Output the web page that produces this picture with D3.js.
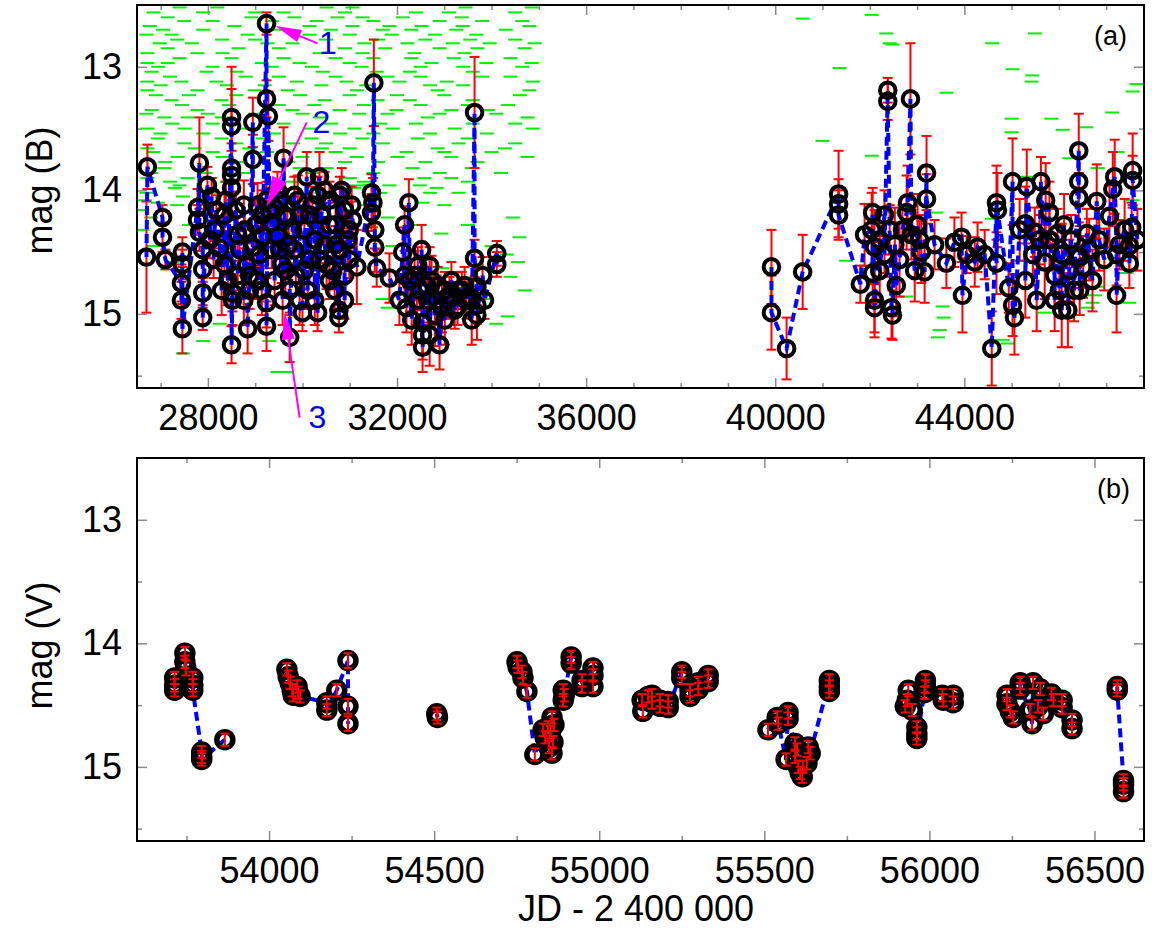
<!DOCTYPE html>
<html>
<head>
<meta charset="utf-8">
<script src="https://cdn.jsdelivr.net/npm/d3@7"></script>
<style>
  body { margin: 0; background: #fff; }
  svg { display: block; }
</style>
</head>
<body>
<div id="chart"></div>
<script>
'use strict';

// (a) photographic B magnitudes: [JD - 2400000, mag, error]
const bandB = [
  [26700, 14.54, 0.45], [26720, 13.81, 0.18], [27040, 14.22, 0.10], [27040, 14.38, 0.12],
  [27100, 14.56, 0.08], [27440, 14.75, 0.15], [27440, 14.89, 0.15], [27460, 14.50, 0.12],
  [27460, 14.60, 0.12], [27460, 15.12, 0.20], [27780, 14.14, 0.15], [27780, 14.24, 0.12],
  [27820, 13.78, 0.37], [27820, 14.34, 0.15], [27890, 14.48, 0.12], [27890, 14.64, 0.10],
  [27890, 14.83, 0.12], [27890, 15.03, 0.10], [27990, 13.96, 0.15], [28040, 14.40, 0.15],
  [28080, 14.05, 0.15], [28120, 14.56, 0.15], [28140, 14.32, 0.15], [28180, 14.16, 0.12],
  [28250, 14.47, 0.10], [28290, 14.81, 0.20], [28350, 14.20, 0.18], [28350, 14.60, 0.10],
  [28380, 14.08, 0.15], [28420, 14.73, 0.20], [28500, 13.41, 0.41], [28500, 13.48, 0.30],
  [28500, 13.82, 0.20], [28500, 13.88, 0.20], [28500, 13.98, 0.20], [28500, 15.25, 0.15],
  [28520, 14.83, 0.15], [28520, 14.89, 0.20], [28590, 14.16, 0.15], [28630, 14.36, 0.15],
  [28630, 14.69, 0.12], [28670, 14.48, 0.15], [28760, 14.12, 0.20], [28760, 14.89, 0.20],
  [28780, 14.32, 0.15], [28820, 14.61, 0.18], [28840, 15.12, 0.20], [28880, 14.69, 0.15],
  [28880, 14.81, 0.15], [28950, 13.45, 0.20], [28950, 13.75, 0.20], [28950, 14.46, 0.15],
  [29010, 14.28, 0.20], [29050, 14.12, 0.18], [29050, 14.73, 0.15], [29090, 14.52, 0.20],
  [29140, 14.20, 0.20], [29140, 14.81, 0.20], [29160, 14.37, 0.15], [29240, 12.65, 0.09],
  [29240, 13.26, 0.15], [29240, 14.08, 0.15], [29240, 14.91, 0.20], [29240, 15.10, 0.20],
  [29280, 13.40, 0.20], [29300, 14.16, 0.15], [29350, 14.26, 0.20], [29350, 14.48, 0.15],
  [29410, 14.14, 0.15], [29410, 14.73, 0.20], [29470, 14.00, 0.15], [29470, 14.37, 0.18],
  [29520, 14.08, 0.15], [29520, 14.48, 0.20], [29560, 14.60, 0.15], [29580, 14.89, 0.20],
  [29600, 13.74, 0.25], [29620, 14.20, 0.15], [29640, 14.65, 0.20], [29680, 14.22, 0.15],
  [29710, 14.44, 0.15], [29730, 14.81, 0.20], [29730, 15.19, 0.20], [29790, 14.32, 0.15],
  [29830, 14.04, 0.15], [29830, 14.48, 0.20], [29860, 14.69, 0.15], [29900, 14.08, 0.20],
  [29940, 14.20, 0.15], [29940, 14.89, 0.20], [30000, 14.99, 0.15], [30040, 14.32, 0.18],
  [30040, 14.65, 0.15], [30090, 13.89, 0.20], [30110, 14.81, 0.15], [30150, 14.20, 0.15],
  [30150, 14.56, 0.20], [30210, 14.12, 0.15], [30260, 14.40, 0.18], [30260, 14.89, 0.20],
  [30320, 14.04, 0.15], [30320, 14.99, 0.15], [30360, 13.89, 0.20], [30360, 14.56, 0.15],
  [30400, 14.20, 0.15], [30470, 14.00, 0.15], [30470, 14.44, 0.15], [30510, 14.60, 0.20],
  [30570, 14.08, 0.15], [30570, 14.28, 0.18], [30570, 14.73, 0.15], [30640, 14.65, 0.15],
  [30680, 14.81, 0.15], [30700, 14.28, 0.20], [30700, 14.44, 0.15], [30770, 14.97, 0.12],
  [30770, 15.03, 0.12], [30790, 14.04, 0.15], [30790, 14.48, 0.15], [30830, 14.00, 0.18],
  [30890, 14.16, 0.15], [30890, 14.69, 0.15], [30890, 14.89, 0.15], [30960, 14.40, 0.20],
  [30990, 14.32, 0.15], [30990, 14.56, 0.15], [31040, 14.12, 0.15], [31060, 14.24, 0.15],
  [31150, 14.62, 0.30], [31460, 14.02, 0.15], [31460, 14.18, 0.15],
  [31490, 14.10, 0.20], [31510, 13.13, 0.35], [31530, 14.32, 0.15], [31530, 14.46, 0.20],
  [31570, 14.63, 0.15], [31840, 14.71, 0.20], [32050, 14.89, 0.20],
  [32120, 14.50, 0.20], [32160, 14.28, 0.15], [32160, 14.69, 0.20], [32200, 14.95, 0.20],
  [32250, 14.10, 0.19], [32270, 14.73, 0.25], [32310, 15.05, 0.20], [32370, 14.69, 0.20],
  [32420, 14.89, 0.20], [32440, 14.61, 0.15], [32480, 14.81, 0.15], [32520, 14.48, 0.20],
  [32540, 15.07, 0.25], [32540, 15.17, 0.20], [32540, 15.27, 0.20], [32630, 14.77, 0.15],
  [32650, 14.89, 0.20], [32690, 14.61, 0.15], [32690, 15.17, 0.25], [32730, 14.73, 0.20],
  [32800, 15.01, 0.25], [32840, 14.89, 0.20], [32860, 14.77, 0.15], [32900, 15.25, 0.20],
  [32950, 14.95, 0.20], [33010, 14.81, 0.15], [33010, 15.05, 0.20], [33070, 14.89, 0.15],
  [33110, 14.85, 0.15], [33150, 14.73, 0.15], [33220, 14.97, 0.15], [33280, 14.81, 0.15],
  [33280, 14.94, 0.15], [33370, 14.81, 0.15], [33430, 14.77, 0.15], [33470, 14.89, 0.15],
  [33540, 14.86, 0.15], [33580, 15.05, 0.20], [33640, 13.37, 0.45], [33640, 14.55, 0.15],
  [33690, 14.78, 0.15], [33690, 14.93, 0.15], [33690, 15.01, 0.20], [33810, 14.69, 0.15],
  [33850, 14.89, 0.15], [34110, 14.51, 0.10], [34110, 14.60, 0.10],
  [39920, 14.62, 0.30], [39920, 14.99, 0.30], [40240, 15.28, 0.25], [40580, 14.66, 0.30],
  [41340, 14.03, 0.35], [41340, 14.11, 0.20], [41340, 14.20, 0.20], [41800, 14.76, 0.15],
  [41890, 14.36, 0.25], [42040, 14.32, 0.30], [42060, 14.18, 0.20], [42060, 14.67, 0.25],
  [42100, 14.46, 0.30], [42100, 14.89, 0.30], [42100, 14.95, 0.20], [42210, 14.40, 0.20],
  [42210, 14.65, 0.25], [42310, 14.20, 0.20], [42310, 14.52, 0.15], [42380, 13.19, 0.10],
  [42380, 13.28, 0.15], [42420, 14.32, 0.20], [42460, 14.95, 0.25], [42480, 15.01, 0.20],
  [42530, 14.44, 0.30], [42560, 14.77, 0.25], [42630, 14.56, 0.30], [42690, 14.32, 0.20],
  [42780, 14.18, 0.30], [42800, 14.10, 0.30], [42860, 13.26, 0.45], [42880, 14.36, 0.20],
  [42950, 14.65, 0.25], [43010, 14.28, 0.25], [43050, 14.40, 0.20], [43090, 14.50, 0.25],
  [43160, 14.66, 0.25], [43200, 13.86, 0.30], [43200, 14.07, 0.20],
  [43370, 14.44, 0.20], [43620, 14.59, 0.20],
  [43790, 14.42, 0.20], [43940, 14.38, 0.20], [43960, 14.85, 0.30],
  [44050, 14.52, 0.15], [44220, 14.58, 0.20], [44280, 14.46, 0.20],
  [44430, 14.52, 0.20], [44580, 15.28, 0.30], [44680, 14.10, 0.30], [44680, 14.59, 0.25],
  [44700, 14.16, 0.30], [44940, 14.79, 0.20], [45020, 13.93, 0.35],
  [45020, 14.93, 0.25], [45060, 15.03, 0.30], [45170, 14.32, 0.25], [45290, 14.27, 0.30],
  [45290, 14.73, 0.30], [45320, 13.97, 0.30], [45450, 14.52, 0.25], [45490, 14.34, 0.20],
  [45530, 14.89, 0.25], [45590, 14.40, 0.20], [45620, 13.93, 0.20], [45700, 14.58, 0.30],
  [45720, 14.08, 0.30], [45800, 14.18, 0.25], [45800, 14.40, 0.25], [45910, 14.69, 0.25],
  [45910, 14.89, 0.25], [45970, 14.35, 0.20], [46010, 14.81, 0.20], [46060, 14.52, 0.25],
  [46060, 14.97, 0.30], [46110, 14.28, 0.25], [46190, 14.97, 0.30], [46220, 14.65, 0.25],
  [46260, 14.40, 0.20], [46320, 14.81, 0.25], [46420, 13.68, 0.30], [46420, 13.93, 0.20],
  [46420, 14.06, 0.20], [46440, 14.54, 0.25], [46440, 14.81, 0.20], [46510, 14.62, 0.25],
  [46590, 14.35, 0.20], [46640, 14.48, 0.25], [46710, 14.73, 0.25], [46800, 14.09, 0.30],
  [46850, 14.40, 0.25], [46960, 14.56, 0.25], [47070, 14.21, 0.25], [47140, 13.99, 0.30],
  [47180, 13.89, 0.30], [47220, 14.52, 0.25], [47220, 14.85, 0.30], [47280, 14.44, 0.20],
  [47390, 14.32, 0.25], [47490, 14.45, 0.20], [47490, 14.59, 0.20], [47540, 14.30, 0.20],
  [47560, 13.84, 0.30], [47560, 13.92, 0.20], [47660, 14.40, 0.25]
];

// plate limits, early plates: [mag, [JD - 2400000 ...]]
const earlyLimitRows = [
  [12.52, [27400, 28200, 30510, 31060, 33450, 34850]],
  [12.56, [26850, 27900, 29000, 29600, 30900, 32400, 33100, 34500]],
  [12.60, [27150, 28920, 29830, 30740, 31270, 32120, 33370]],
  [12.63, [27500, 28100, 29350, 30300, 31500, 32900, 33800, 34650]],
  [12.67, [26770, 28560, 30150, 31060, 31840, 32520, 33390, 34800]],
  [12.70, [27050, 27900, 29500, 30600, 31700, 32300, 33250, 34300]],
  [12.74, [26700, 27230, 28840, 30150, 31000, 31890, 32800, 33680]],
  [12.78, [27350, 28300, 29000, 30500, 31600, 32600, 33550, 34500]],
  [12.81, [26980, 27660, 29260, 29790, 31310, 32220, 33180, 33960, 34910]],
  [12.85, [27150, 28650, 29500, 30900, 31750, 32900, 33700, 34700]],
  [12.89, [26720, 27780, 28310, 30360, 31270, 32370, 33430]],
  [12.93, [27400, 28500, 29600, 30700, 31500, 32300, 33200, 34400]],
  [12.97, [26720, 27150, 29140, 29940, 31000, 32730, 33890, 34850]],
  [13.00, [26950, 28100, 29350, 30200, 31250, 32500, 33400, 34650]],
  [13.04, [26810, 27970, 28610, 30430, 31570, 32270, 33600]],
  [13.08, [27200, 28800, 29500, 30700, 31800, 32500, 33800, 34400]],
  [13.12, [26720, 27440, 28180, 29880, 30930, 32050, 33050, 34870]],
  [13.15, [27000, 28400, 29200, 30400, 31350, 32700, 33400]],
  [13.19, [26720, 27780, 28990, 29690, 31150, 32860, 34800]],
  [13.23, [26900, 27600, 28600, 29950, 31000, 32000, 33000, 34600]],
  [13.27, [27230, 28290, 30470, 31590, 32270, 33600]],
  [13.31, [27450, 28450, 29500, 30250, 31300, 32500, 33500, 34350]],
  [13.35, [26810, 27780, 29790, 30790, 31990, 33150, 33920]],
  [13.38, [26700, 28000, 29000, 30000, 31200, 31800, 32900, 34100]],
  [13.41, [27080, 27570, 28290, 30360, 32650, 34760]],
  [13.46, [27250, 28100, 29600, 30600, 31650, 32400, 33600, 34500]],
  [13.50, [26720, 27510, 28840, 30190, 31100, 31910, 33220, 34870]],
  [13.54, [27000, 27900, 29400, 30800, 31500, 32700, 33900]],
  [13.58, [26940, 28290, 29160, 30190, 31270, 32440, 33490]],
  [13.62, [27500, 28600, 29800, 30500, 31700, 33300, 34500]],
  [13.66, [26720, 27720, 28880, 30410, 31000, 32860, 34280]],
  [13.69, [26850, 28100, 29250, 30700, 32200, 33000, 34000]],
  [13.73, [27360, 28310, 30000, 31150, 32010, 33150, 34760]],
  [13.77, [27100, 28600, 29700, 30900, 31600, 32600, 33700]],
  [13.82, [27080, 29940, 30510, 32330, 33580]],
  [13.86, [26800, 27950, 28800, 30200, 31500, 32900, 34200]],
  [13.90, [26720, 27570, 31000, 32580, 33150]],
  [13.93, [27200, 28400, 29800, 31300, 33500]],
  [13.96, [27400, 29450, 30960, 31270, 31420, 31840, 32480]],
  [13.98, [27300, 30260, 31100, 32840]],
  [14.02, [26700, 28150, 30400, 31650, 32700, 33300]],
  [14.05, [27470]],
  [14.08, [26660]],
  [14.10, [26940, 27930, 32540]],
  [14.12, [27350, 29300, 31300, 33000]],
  [14.16, [26560, 31000]],
  [14.18, [29730]],
  [14.22, [26800, 28500, 31800, 34450]],
  [14.28, [27600, 32300, 33500]],
  [14.32, [26620]],
  [14.35, [32940]],
  [14.38, [34590]],
  [14.45, [26850, 31900, 34000]],
  [14.52, [34320]],
  [14.58, [27250, 34560]],
  [14.63, [32960]],
  [14.70, [32700, 34400]],
  [14.73, [32900]],
  [14.81, [34700]],
  [14.88, [31700, 33900]],
  [14.95, [31800]],
  [15.02, [34340]],
  [15.08, [28250, 34100]],
  [15.22, [27900, 29300]],
  [15.32, [27470]],
  [15.47, [29470, 29670]]
];

// plate limits, later plates: [JD - 2400000, mag]
const lateLimits = [
  [40580, 12.61], [42040, 12.58], [42350, 12.73], [42420, 12.81], [42480, 12.82],
  [41360, 13.01], [41000, 13.60], [42040, 13.72], [43620, 13.21], [44590, 12.81],
  [45020, 13.02], [45490, 12.73], [45440, 13.07], [45420, 13.12], [47640, 13.14],
  [47560, 13.20], [45000, 13.42], [45840, 13.42], [46080, 13.51], [46580, 13.49],
  [47130, 13.37], [46220, 13.74], [47240, 13.69], [45000, 13.53], [45340, 13.89],
  [46820, 13.82], [47560, 14.08], [42520, 14.18], [41500, 14.57], [42770, 14.86],
  [43410, 14.18], [43540, 14.94], [43560, 15.03], [43480, 15.13], [43440, 15.19],
  [44590, 14.23], [44810, 15.21], [44910, 15.24], [46820, 14.78], [46760, 14.85],
  [46710, 14.91], [47110, 14.27], [47430, 14.67], [47490, 14.91], [45700, 14.99],
  [46610, 14.95], [47030, 14.47]
];

// (b) CCD V magnitudes: [JD - 2400000, mag, error]
const bandV = [
  [53714, 14.28, 0.05], [53714, 14.34, 0.05], [53714, 14.38, 0.05],
  [53745, 14.08, 0.05], [53745, 14.15, 0.05], [53748, 14.20, 0.06],
  [53769, 14.28, 0.05], [53769, 14.34, 0.05], [53769, 14.38, 0.05],
  [53796, 14.88, 0.05], [53796, 14.92, 0.05], [53796, 14.94, 0.05],
  [53866, 14.78, 0.05],
  [54054, 14.21, 0.05], [54058, 14.27, 0.05], [54064, 14.32, 0.05], [54070, 14.38, 0.05],
  [54073, 14.42, 0.05], [54085, 14.35, 0.05], [54088, 14.40, 0.05], [54094, 14.43, 0.05],
  [54175, 14.48, 0.05], [54175, 14.54, 0.05], [54205, 14.38, 0.05],
  [54239, 14.14, 0.06], [54239, 14.51, 0.06], [54239, 14.65, 0.06],
  [54508, 14.57, 0.05], [54510, 14.60, 0.05],
  [54751, 14.15, 0.05], [54754, 14.19, 0.05], [54766, 14.23, 0.05], [54769, 14.28, 0.05],
  [54781, 14.39, 0.05], [54805, 14.90, 0.05], [54830, 14.70, 0.05], [54836, 14.76, 0.05],
  [54845, 14.68, 0.05], [54848, 14.84, 0.05], [54852, 14.72, 0.05], [54857, 14.60, 0.05],
  [54857, 14.89, 0.05], [54860, 14.80, 0.05], [54863, 14.66, 0.05],
  [54891, 14.38, 0.05], [54891, 14.46, 0.05], [54894, 14.42, 0.05],
  [54915, 14.11, 0.05], [54915, 14.16, 0.05], [54948, 14.30, 0.05], [54948, 14.35, 0.05],
  [54981, 14.20, 0.05], [54981, 14.26, 0.05], [54981, 14.35, 0.05],
  [55130, 14.46, 0.05], [55132, 14.55, 0.05], [55148, 14.43, 0.05],
  [55160, 14.42, 0.05], [55160, 14.48, 0.05], [55184, 14.46, 0.05], [55184, 14.51, 0.05],
  [55209, 14.47, 0.05], [55209, 14.52, 0.05], [55250, 14.23, 0.05], [55250, 14.28, 0.05],
  [55275, 14.38, 0.05], [55275, 14.43, 0.05], [55300, 14.32, 0.05], [55300, 14.37, 0.05],
  [55330, 14.26, 0.05], [55330, 14.31, 0.05],
  [55511, 14.70, 0.05], [55539, 14.60, 0.05], [55542, 14.65, 0.05], [55566, 14.94, 0.05],
  [55572, 14.56, 0.05], [55572, 14.61, 0.05], [55593, 14.81, 0.05], [55593, 14.92, 0.05],
  [55599, 14.86, 0.05], [55603, 15.00, 0.05], [55609, 15.05, 0.05], [55615, 15.08, 0.05],
  [55617, 15.00, 0.05], [55629, 14.97, 0.05], [55633, 14.84, 0.05], [55639, 14.89, 0.05],
  [55697, 14.30, 0.05], [55697, 14.35, 0.05], [55697, 14.39, 0.05],
  [55927, 14.51, 0.05], [55933, 14.46, 0.05], [55936, 14.38, 0.05], [55948, 14.54, 0.05],
  [55962, 14.68, 0.05], [55962, 14.73, 0.05], [55962, 14.77, 0.05],
  [55985, 14.40, 0.05], [55988, 14.30, 0.05], [55988, 14.35, 0.05],
  [56039, 14.42, 0.05], [56042, 14.46, 0.05], [56072, 14.42, 0.05], [56072, 14.48, 0.05],
  [56235, 14.42, 0.05], [56235, 14.49, 0.05], [56245, 14.55, 0.05], [56254, 14.60, 0.05],
  [56275, 14.32, 0.05], [56275, 14.37, 0.05], [56305, 14.54, 0.05], [56311, 14.65, 0.05],
  [56314, 14.32, 0.05], [56329, 14.51, 0.05], [56336, 14.37, 0.05], [56345, 14.57, 0.05],
  [56370, 14.41, 0.05], [56376, 14.46, 0.05], [56402, 14.46, 0.05], [56402, 14.52, 0.05],
  [56432, 14.62, 0.05], [56432, 14.69, 0.05],
  [56569, 14.35, 0.05], [56569, 14.38, 0.05],
  [56588, 15.11, 0.05], [56588, 15.14, 0.05], [56588, 15.20, 0.05]
];

const xTicksA = [28000, 32000, 36000, 40000, 44000];
const xTicksB = [54000, 54500, 55000, 55500, 56000, 56500];
const yTicks = [13, 14, 15];
const yMinorTicks = [13.5, 14.5, 15.5];

// arrows in panel (a): label, tail, tip, label position (JD, mag)
const arrowNotes = [
  { label: '1', from: [30320, 12.81], to: [29430, 12.67], at: [30350, 12.90], len: 26, half: 6.5 },
  { label: '2', from: [30090, 13.45], to: [29240, 14.13], at: [30210, 13.54], len: 30, half: 8 },
  { label: '3', from: [29940, 15.84], to: [29620, 14.99], at: [30130, 15.92], len: 27, half: 6.5 }
];

const FONT = "'Liberation Sans', Arial, Helvetica, sans-serif";
const left = 137;
const right = 1144;
const magDomain = [12.5, 15.6];

const svg = d3.select('#chart')
  .append('svg')
    .attr('width', 1152)
    .attr('height', 934)
    .attr('font-family', FONT);

const xA = d3.scaleLinear().domain([26500, 47800]).range([left, right]);
const yA = d3.scaleLinear().domain(magDomain).range([5, 388]);
const xB = d3.scaleLinear().domain([53600, 56650]).range([left, right]);
const yB = d3.scaleLinear().domain(magDomain).range([458, 841]);

// split into observing runs, the dashed line is not drawn over long gaps
function seasons(points, maxGap) {
  const out = [];
  let cur = [];
  points.forEach((p, i) => {
    if (i > 0 && p[0] - points[i - 1][0] > maxGap) {
      out.push(cur);
      cur = [];
    }
    cur.push(p);
  });
  out.push(cur);
  return out;
}

function drawAxes(x, y, xMajor, xMinor, xPad) {
  const [y0, y1] = y.range();
  const [x0, x1] = x.range();
  const sides = [
    { axis: d3.axisBottom, scale: x, at: 'translate(0,' + y1 + ')', major: xMajor, minor: xMinor, labels: true, pad: xPad },
    { axis: d3.axisTop, scale: x, at: 'translate(0,' + y0 + ')', major: xMajor, minor: xMinor, labels: false, pad: 0 },
    { axis: d3.axisLeft, scale: y, at: 'translate(' + x0 + ',0)', major: yTicks, minor: yMinorTicks, labels: true, pad: 15 },
    { axis: d3.axisRight, scale: y, at: 'translate(' + x1 + ',0)', major: yTicks, minor: yMinorTicks, labels: false, pad: 0 }
  ];
  sides.forEach((s) => {
    const g = svg.append('g').attr('transform', s.at);
    g.append('g')
      .call(s.axis(s.scale).tickValues(s.minor).tickSize(-5).tickFormat(''));
    g.append('g')
      .call(s.axis(s.scale).tickValues(s.major).tickSize(-10).tickPadding(s.pad)
        .tickFormat(s.labels ? d3.format('d') : ''))
      .attr('font-size', 36)
      .attr('font-family', FONT);
    g.selectAll('.domain').remove();
    g.selectAll('.tick line')
      .attr('stroke', '#8a8a8a')
      .attr('stroke-width', 1.5);
    g.selectAll('.tick text').attr('fill', '#000');
  });
}

function clipFor(id, x, y) {
  svg.append('clipPath')
    .attr('id', id)
    .append('rect')
      .attr('x', x.range()[0])
      .attr('y', y.range()[0])
      .attr('width', x.range()[1] - x.range()[0])
      .attr('height', y.range()[1] - y.range()[0]);
  return svg.append('g').attr('clip-path', 'url(#' + id + ')');
}

function errorBars(g, data, x, y, cap) {
  const bars = g.append('g')
    .attr('stroke', '#ff0000')
    .attr('stroke-width', 2);
  data.forEach((d) => {
    const cx = x(d[0]);
    const top = y(d[1] - d[2]);
    const bot = y(d[1] + d[2]);
    bars.append('line').attr('x1', cx).attr('x2', cx).attr('y1', top).attr('y2', bot);
    bars.append('line').attr('x1', cx - cap).attr('x2', cx + cap).attr('y1', top).attr('y2', top);
    bars.append('line').attr('x1', cx - cap).attr('x2', cx + cap).attr('y1', bot).attr('y2', bot);
  });
}

function dashedLine(g, data, x, y, maxGap) {
  const line = d3.line()
    .x(d => x(d[0]))
    .y(d => y(d[1]));
  g.append('g')
    .selectAll('path')
    .data(seasons(data, maxGap))
    .enter()
    .append('path')
      .attr('d', line)
      .attr('fill', 'none')
      .attr('stroke', '#0000ff')
      .attr('stroke-width', 4)
      .attr('stroke-dasharray', '9,5');
}

function circles(g, data, x, y, r, w) {
  g.append('g')
    .selectAll('circle')
    .data(data)
    .enter()
    .append('circle')
      .attr('cx', d => x(d[0]))
      .attr('cy', d => y(d[1]))
      .attr('r', r)
      .attr('fill', 'none')
      .attr('stroke', '#000')
      .attr('stroke-width', w);
}

function frame(x, y) {
  svg.append('rect')
    .attr('x', x.range()[0])
    .attr('y', y.range()[0])
    .attr('width', x.range()[1] - x.range()[0])
    .attr('height', y.range()[1] - y.range()[0])
    .attr('fill', 'none')
    .attr('stroke', '#000')
    .attr('stroke-width', 2);
}

const byJD = (a, b) => a[0] - b[0];
const dataB = bandB.slice().sort(byJD);
const dataV = bandV.slice().sort(byJD);

const limits = [];
earlyLimitRows.forEach((row) => {
  row[1].forEach(jd => limits.push([jd, row[0]]));
});
lateLimits.forEach(d => limits.push(d));

// ---- panel (a)
drawAxes(xA, yA, xTicksA, d3.range(27000, 48000, 1000).filter(v => v % 4000 !== 0), 16);
const plotA = clipFor('clipA', xA, yA);

plotA.append('g')
  .selectAll('line')
  .data(limits)
  .enter()
  .append('line')
    .attr('x1', d => xA(d[0]) - 7)
    .attr('x2', d => xA(d[0]) + 7)
    .attr('y1', d => yA(d[1]))
    .attr('y2', d => yA(d[1]))
    .attr('stroke', '#00f000')
    .attr('stroke-width', 2);

errorBars(plotA, dataB, xA, yA, 5);
dashedLine(plotA, dataB, xA, yA, 3000);
circles(plotA, dataB, xA, yA, 7.8, 4);
frame(xA, yA);

// arrows and numbers
arrowNotes.forEach((a) => {
  const tail = [xA(a.from[0]), yA(a.from[1])];
  const tip = [xA(a.to[0]), yA(a.to[1])];
  const dx = tip[0] - tail[0];
  const dy = tip[1] - tail[1];
  const dist = Math.hypot(dx, dy);
  const ux = dx / dist;
  const uy = dy / dist;
  const bx = tip[0] - ux * a.len;
  const by = tip[1] - uy * a.len;
  svg.append('line')
    .attr('x1', tail[0]).attr('y1', tail[1])
    .attr('x2', bx).attr('y2', by)
    .attr('stroke', '#ff00ff')
    .attr('stroke-width', 2);
  svg.append('path')
    .attr('d', 'M' + tip[0] + ',' + tip[1] +
      'L' + (bx - uy * a.half) + ',' + (by + ux * a.half) +
      'L' + (bx + uy * a.half) + ',' + (by - ux * a.half) + 'Z')
    .attr('fill', '#ff00ff');
  svg.append('text')
    .attr('x', xA(a.at[0]))
    .attr('y', yA(a.at[1]))
    .attr('font-size', 32)
    .attr('fill', '#0000ff')
    .text(a.label);
});

svg.append('text')
  .attr('x', 1127)
  .attr('y', 45)
  .attr('text-anchor', 'end')
  .attr('font-size', 27)
  .text('(a)');

svg.append('text')
  .attr('transform', 'translate(52,' + ((yA.range()[0] + yA.range()[1]) / 2 - 6) + ') rotate(-90)')
  .attr('text-anchor', 'middle')
  .attr('font-size', 36)
  .text('mag (B)');

// ---- panel (b)
drawAxes(xB, yB, xTicksB, d3.range(53750, 56650, 250).filter(v => v % 500 !== 0), 16);
const plotB = clipFor('clipB', xB, yB);

dashedLine(plotB, dataV, xB, yB, 110);
circles(plotB, dataV, xB, yB, 8, 5.5);
errorBars(plotB, dataV, xB, yB, 4.5);
frame(xB, yB);

svg.append('text')
  .attr('x', 1130)
  .attr('y', 498)
  .attr('text-anchor', 'end')
  .attr('font-size', 27)
  .text('(b)');

svg.append('text')
  .attr('transform', 'translate(52,' + ((yB.range()[0] + yB.range()[1]) / 2 - 4) + ') rotate(-90)')
  .attr('text-anchor', 'middle')
  .attr('font-size', 36)
  .text('mag (V)');

svg.append('text')
  .attr('x', 636)
  .attr('y', 921)
  .attr('text-anchor', 'middle')
  .attr('font-size', 36)
  .text('JD - 2 400 000');
</script>
</body>
</html>
